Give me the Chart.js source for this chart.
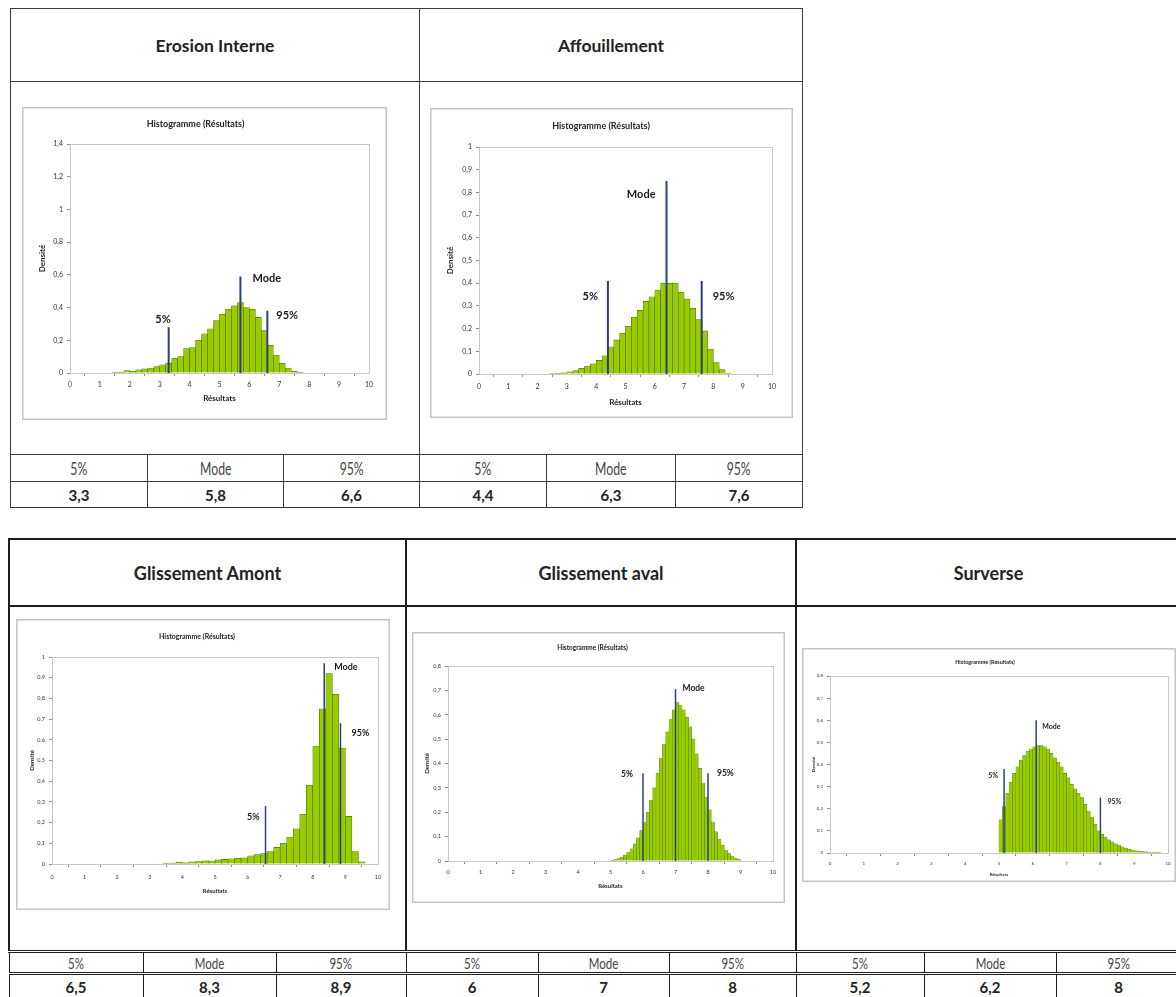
<!DOCTYPE html>
<html>
<head>
<meta charset="utf-8">
<script src="https://cdn.jsdelivr.net/npm/chart.js@4.4.0/dist/chart.umd.min.js"></script>
<style>
  body { margin: 0; width: 1176px; height: 997px; overflow: hidden; position: relative; background: #fff; font-family: Lato, "Open Sans", sans-serif; }
  table { position: absolute; border-collapse: collapse; table-layout: fixed; }
  td { text-align: center; padding: 0; color: #222; }
  #t1 td { border: 1px solid #3a3a3a; }
  #t2 td { border: 2px solid #1e1e1e; }
  #t2 tr.lab td, #t2 tr.val td { border-left-width: 1px; border-right-width: 1px; }
  #t2 tr.lab td { border-top: 3px double #1e1e1e; border-bottom: 3px double #1e1e1e; }
  td.hd { font-weight: bold; font-size: 17.5px; }
  #t2 td.hd { font-size: 18px; }
  td.lb span { display: inline-block; font-size: 17px; color: #444; transform: scaleX(0.72); }
  #t2 td.lb span { font-size: 16px; }
  td.vl { font-weight: bold; font-size: 15px; }
  canvas { position: absolute; }
</style>
</head>
<body>
<table id="t1" style="left:10px;top:8px;width:792px;height:499px"></table>
<table id="t2" style="left:8px;top:538px;width:1172px;height:461px"></table>
<canvas id="c1" width="365" height="313" style="left:22px;top:107px"></canvas>
<canvas id="c2" width="363" height="310" style="left:430px;top:108px"></canvas>
<canvas id="c3" width="374" height="291" style="left:16px;top:619px"></canvas>
<canvas id="c4" width="373" height="271" style="left:412px;top:632px"></canvas>
<canvas id="c5" width="374" height="234" style="left:802px;top:648px"></canvas>
<script>
// table text
const titles = ['Erosion Interne', 'Affouillement', 'Glissement Amont', 'Glissement aval', 'Surverse'];
const statNames = ['5%', 'Mode', '95%'];
const statValues = [
  ['3,3', '5,8', '6,6'],
  ['4,4', '6,3', '7,6'],
  ['6,5', '8,3', '8,9'],
  ['6', '7', '8'],
  ['5,2', '6,2', '8']
];

// histograms (bin centre, density)
const erosionX = [1.5,1.7,1.9,2.1,2.3,2.5,2.7,2.9,3.1,3.3,3.5,3.7,3.9,4.1,4.3,4.5,4.7,4.9,5.1,5.3,5.5,5.7,5.9,6.1,6.3,6.5,6.7,6.9,7.1,7.3,7.5,7.7];
const erosionY = [0.005,0.005,0.015,0.01,0.02,0.025,0.03,0.04,0.05,0.06,0.09,0.1,0.15,0.155,0.2,0.24,0.27,0.32,0.36,0.39,0.41,0.43,0.40,0.39,0.34,0.26,0.17,0.11,0.06,0.03,0.01,0.005];
const erosionMarks = [3.3, 5.7, 6.6];
const erosionTops = [0.28, 0.59, 0.38];

const affX = [2.5,2.7,2.9,3.1,3.3,3.5,3.7,3.9,4.1,4.3,4.5,4.7,4.9,5.1,5.3,5.5,5.7,5.9,6.1,6.3,6.5,6.7,6.9,7.1,7.3,7.5,7.7,7.9,8.1,8.3,8.5];
const affY = [0.002,0.003,0.005,0.01,0.015,0.025,0.035,0.045,0.06,0.08,0.12,0.15,0.18,0.21,0.25,0.28,0.32,0.34,0.37,0.40,0.40,0.40,0.36,0.33,0.29,0.24,0.19,0.11,0.05,0.02,0.003];
const affMarks = [4.4, 6.4, 7.6];
const affTops = [0.41, 0.85, 0.41];

const amontX = [3.5,3.7,3.9,4.1,4.3,4.5,4.7,4.9,5.1,5.3,5.5,5.7,5.9,6.1,6.3,6.5,6.7,6.9,7.1,7.3,7.5,7.7,7.9,8.1,8.3,8.5,8.7,8.9,9.1,9.3,9.5];
const amontY = [0.003,0.005,0.008,0.006,0.01,0.012,0.015,0.014,0.02,0.022,0.025,0.028,0.03,0.04,0.045,0.05,0.06,0.08,0.1,0.13,0.17,0.24,0.38,0.57,0.75,0.92,0.82,0.56,0.23,0.06,0.01];
const amontMarks = [6.55, 8.35, 8.85];
const amontTops = [0.28, 0.97, 0.68];

const avalX = [5.05,5.15,5.25,5.35,5.45,5.55,5.65,5.75,5.85,5.95,6.05,6.15,6.25,6.35,6.45,6.55,6.65,6.75,6.85,6.95,7.05,7.15,7.25,7.35,7.45,7.55,7.65,7.75,7.85,7.95,8.05,8.15,8.25,8.35,8.45,8.55,8.65,8.75,8.85,8.95];
const avalY = [0.003,0.006,0.01,0.016,0.024,0.035,0.05,0.07,0.095,0.125,0.16,0.2,0.25,0.3,0.36,0.42,0.48,0.53,0.58,0.62,0.65,0.64,0.62,0.59,0.55,0.50,0.44,0.38,0.32,0.26,0.21,0.16,0.12,0.09,0.065,0.045,0.03,0.02,0.012,0.007];
const avalMarks = [6.0, 7.0, 8.0];
const avalTops = [0.36, 0.705, 0.36];

const surX = [5.05,5.15,5.25,5.35,5.45,5.55,5.65,5.75,5.85,5.95,6.05,6.15,6.25,6.35,6.45,6.55,6.65,6.75,6.85,6.95,7.05,7.15,7.25,7.35,7.45,7.55,7.65,7.75,7.85,7.95,8.05,8.15,8.25,8.35,8.45,8.55,8.65,8.75,8.85,8.95,9.05,9.15,9.25,9.35,9.45,9.55,9.65,9.75];
const surY = [0.15,0.21,0.27,0.32,0.36,0.39,0.42,0.44,0.46,0.47,0.48,0.485,0.485,0.48,0.47,0.45,0.43,0.41,0.39,0.36,0.34,0.31,0.29,0.27,0.25,0.22,0.19,0.16,0.13,0.10,0.085,0.072,0.06,0.05,0.042,0.035,0.028,0.022,0.017,0.013,0.01,0.008,0.006,0.005,0.004,0.003,0.002,0.002];
const surMarks = [5.15, 6.1, 8.0];
const surTops = [0.38, 0.6, 0.25];

// ---- tables ----
function buildTable(id, cols, rows, from, to) {
  let h = '<colgroup>' + cols.map(w => '<col style="width:' + w + 'px">').join('') + '</colgroup>';
  h += '<tr style="height:' + rows[0] + 'px">';
  for (let i = from; i < to; i++) h += '<td colspan="3" class="hd">' + titles[i] + '</td>';
  h += '</tr><tr style="height:' + rows[1] + 'px">';
  for (let i = from; i < to; i++) h += '<td colspan="3"></td>';
  h += '</tr><tr class="lab" style="height:' + rows[2] + 'px">';
  for (let i = from; i < to; i++) statNames.forEach(n => { h += '<td class="lb"><span>' + n + '</span></td>'; });
  h += '</tr><tr class="val" style="height:' + rows[3] + 'px">';
  for (let i = from; i < to; i++) statValues[i].forEach(v => { h += '<td class="vl">' + v + '</td>'; });
  h += '</tr>';
  document.getElementById(id).innerHTML = h;
}
buildTable('t1', [137,136,136,127,129,127], [73,373,27,26], 0, 2);
buildTable('t2', [134,133,130,132,131,127,128,132,125], [67,345,22,27], 2, 5);

// ---- charts ----
const frame = {
  id: 'frame',
  beforeDatasetsDraw(chart) {
    const {ctx, chartArea: a} = chart;
    ctx.save();
    ctx.strokeStyle = '#c8c8c8';
    ctx.lineWidth = 1;
    ctx.strokeRect(Math.round(a.left) + 0.5, Math.round(a.top) + 0.5, Math.round(a.right - a.left), Math.round(a.bottom - a.top));
    ctx.restore();
  },
  afterDraw(chart) {
    const ctx = chart.ctx;
    ctx.save();
    ctx.strokeStyle = '#c4c4c4';
    ctx.lineWidth = 1.5;
    ctx.strokeRect(0.75, 0.75, chart.width - 1.5, chart.height - 1.5);
    ctx.restore();
  }
};

const markText = {
  id: 'markText',
  afterDatasetsDraw(chart, args, opts) {
    const {ctx, scales: {x, y}} = chart;
    ctx.save();
    ctx.font = opts.font;
    ctx.fillStyle = '#1a1a1a';
    ctx.textBaseline = 'middle';
    opts.marks.forEach((m, i) => {
      const p = opts.place[i];
      ctx.textAlign = p[2];
      ctx.fillText(statNames[i], x.getPixelForValue(m) + p[0], y.getPixelForValue(p[1]));
    });
    ctx.restore();
  }
};

function histo(id, xs, ys, marks, tops, yMax, st) {
  const bars = xs.map((v, i) => ({x: v, y: ys[i]}));
  const lines = marks.map((m, i) => ({
    type: 'line',
    data: [{x: m, y: 0}, {x: m, y: tops[i]}],
    borderColor: '#2c3f7c',
    borderWidth: st.lw,
    pointRadius: 0,
    order: 0
  }));
  const fam = 'Lato, "Open Sans", sans-serif';
  new Chart(document.getElementById(id), {
    type: 'bar',
    data: {
      datasets: [{
        data: bars,
        backgroundColor: '#99cc00',
        borderColor: '#4a6b00',
        borderWidth: st.bw,
        borderSkipped: 'start',
        barPercentage: 1,
        categoryPercentage: 1,
        order: 1
      }].concat(lines)
    },
    options: {
      responsive: false,
      animation: false,
      layout: {padding: {left: 0, right: st.right, top: 0, bottom: 0}},
      plugins: {
        legend: {display: false},
        tooltip: {enabled: false},
        title: {
          display: true,
          text: 'Histogramme (Résultats)',
          color: '#222',
          font: {family: fam, size: st.ft, weight: 'bold'},
          padding: {top: st.tp[0], bottom: st.tp[1]}
        },
        markText: {marks: marks, place: st.place, font: 'bold ' + st.fm + 'px ' + fam}
      },
      scales: {
        x: {
          type: 'linear', min: 0, max: 10, offset: false,
          ticks: {stepSize: 1, color: '#333', font: {family: fam, size: st.fs}, padding: st.xtp, maxRotation: 0},
          grid: {drawOnChartArea: false, tickLength: 3, color: '#8c8c8c'},
          border: {color: '#8c8c8c'},
          title: {display: true, text: 'Résultats', color: '#222', font: {family: fam, size: st.fa, weight: 'bold'}, padding: {top: 0, bottom: st.xt}},
          afterFit: s => { s.height = st.bottom; }
        },
        y: {
          min: 0, max: yMax,
          ticks: {stepSize: st.step, color: '#333', font: {family: fam, size: st.fs}, padding: 4,
            callback: v => String(Math.round(v * 10) / 10).replace('.', ',')},
          grid: {drawOnChartArea: false, tickLength: 3, color: '#8c8c8c'},
          border: {color: '#8c8c8c'},
          title: {display: true, text: 'Densité', color: '#222', font: {family: fam, size: st.fa, weight: 'bold'}, padding: {top: st.yt, bottom: 0}},
          afterFit: s => { s.width = st.left; }
        }
      }
    },
    plugins: [frame, markText]
  });
}

histo('c1', erosionX, erosionY, erosionMarks, erosionTops, 1.4, {
  left: 48, right: 18, bottom: 47, tp: [11.6, 14.6], xt: 17, yt: 16, xtp: 5, step: 0.2,
  fs: 7, ft: 9, fa: 8, fm: 11, lw: 2, bw: 0.6,
  place: [[2, 0.33, 'right'], [12, 0.58, 'left'], [9, 0.35, 'left']]
});
histo('c2', affX, affY, affMarks, affTops, 1, {
  left: 49, right: 21, bottom: 44, tp: [12.6, 15.6], xt: 11, yt: 16, xtp: 6, step: 0.1,
  fs: 7, ft: 9, fa: 8, fm: 11, lw: 2, bw: 0.6,
  place: [[-10, 0.34, 'right'], [-11, 0.79, 'right'], [11, 0.34, 'left']]
});
histo('c3', amontX, amontY, amontMarks, amontTops, 1, {
  left: 36, right: 12, bottom: 46, tp: [13.8, 15.8], xt: 15, yt: 12, xtp: 7, step: 0.1,
  fs: 5.5, ft: 7, fa: 6, fm: 9, lw: 1.5, bw: 0.6,
  place: [[-6, 0.226, 'right'], [10, 0.95, 'left'], [11, 0.63, 'left']]
});
histo('c4', avalX, avalY, avalMarks, avalTops, 0.8, {
  left: 36, right: 12, bottom: 42, tp: [12.1, 14.1], xt: 13, yt: 11, xtp: 5, step: 0.1,
  fs: 5.5, ft: 6.5, fa: 6, fm: 8.5, lw: 1.5, bw: 0.4,
  place: [[-10, 0.356, 'right'], [7, 0.71, 'left'], [9, 0.36, 'left']]
});
histo('c5', surX, surY, surMarks, surTops, 0.8, {
  left: 28, right: 8, bottom: 29, tp: [10.7, 10.7], xt: 5, yt: 9, xtp: 5, step: 0.1,
  fs: 4.5, ft: 5.5, fa: 4.5, fm: 7, lw: 1.5, bw: 0.4,
  place: [[-6, 0.35, 'right'], [6, 0.57, 'left'], [7, 0.233, 'left']]
});
</script>
</body>
</html>
